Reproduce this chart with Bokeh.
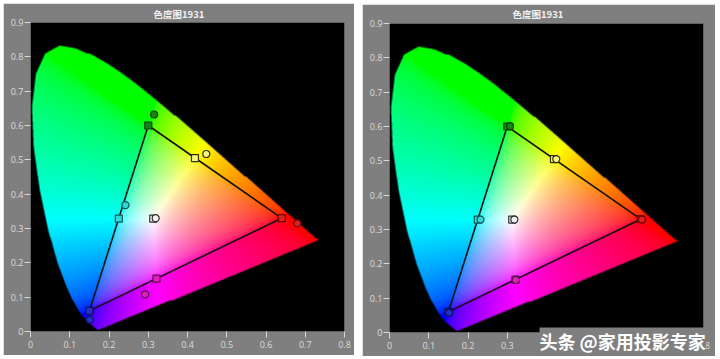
import numpy as np
from bokeh.plotting import figure
from bokeh.layouts import row
from bokeh.models import FixedTicker, Title
from bokeh.embed import file_html
from bokeh.resources import INLINE

# CIE 1931 2-degree spectral locus (380..700 nm, 5 nm)
locus_x = [0.1741, 0.1740, 0.1738, 0.1736, 0.1733, 0.1730, 0.1726, 0.1721, 0.1714, 0.1703,
           0.1689, 0.1669, 0.1644, 0.1611, 0.1566, 0.1510, 0.1440, 0.1355, 0.1241, 0.1096,
           0.0913, 0.0687, 0.0454, 0.0235, 0.0082, 0.0039, 0.0139, 0.0389, 0.0743, 0.1142,
           0.1547, 0.1929, 0.2296, 0.2658, 0.3016, 0.3373, 0.3731, 0.4087, 0.4441, 0.4788,
           0.5125, 0.5448, 0.5752, 0.6029, 0.6270, 0.6482, 0.6658, 0.6801, 0.6915, 0.7006,
           0.7079, 0.7140, 0.7190, 0.7230, 0.7260, 0.7283, 0.7300, 0.7311, 0.7320, 0.7327,
           0.7334, 0.7340, 0.7344, 0.7346, 0.7347]
locus_y = [0.0050, 0.0050, 0.0049, 0.0049, 0.0048, 0.0048, 0.0048, 0.0048, 0.0051, 0.0058,
           0.0069, 0.0086, 0.0109, 0.0138, 0.0177, 0.0227, 0.0297, 0.0399, 0.0578, 0.0868,
           0.1327, 0.2007, 0.2950, 0.4127, 0.5384, 0.6548, 0.7502, 0.8120, 0.8338, 0.8262,
           0.8059, 0.7816, 0.7543, 0.7243, 0.6923, 0.6589, 0.6245, 0.5896, 0.5547, 0.5202,
           0.4866, 0.4544, 0.4242, 0.3965, 0.3725, 0.3514, 0.3340, 0.3197, 0.3083, 0.2993,
           0.2920, 0.2859, 0.2809, 0.2770, 0.2740, 0.2717, 0.2700, 0.2689, 0.2680, 0.2673,
           0.2666, 0.2660, 0.2656, 0.2654, 0.2653]

# Points: R, G, B, C, M, Y, W
point_names = ["R", "G", "B", "C", "M", "Y", "W"]
target_x = [0.640, 0.300, 0.150, 0.225, 0.321, 0.419, 0.3127]
target_y = [0.330, 0.600, 0.060, 0.329, 0.154, 0.505, 0.329]
left_meas_x = [0.680, 0.315, 0.151, 0.242, 0.292, 0.448, 0.319]
left_meas_y = [0.315, 0.632, 0.034, 0.368, 0.108, 0.517, 0.330]
right_meas_x = [0.643, 0.307, 0.152, 0.232, 0.322, 0.425, 0.318]
right_meas_y = [0.329, 0.601, 0.058, 0.329, 0.153, 0.505, 0.329]
point_fill = ["#e02020", "#118811", "#2030c8", "#30d8d8", "#e020b8", "#f8f880", "#f4f4f4"]
point_line = ["#700000", "#0a400a", "#101060", "#105858", "#601050", "#303000", "#303030"]

x_ticks = [0, 0.1, 0.2, 0.3, 0.4, 0.5, 0.6, 0.7, 0.8]
x_tick_labels = ["0", "0.1", "0.2", "0.3", "0.4", "0.5", "0.6", "0.7", "0.8"]
y_ticks = [0, 0.1, 0.2, 0.3, 0.4, 0.5, 0.6, 0.7, 0.8, 0.9]
y_tick_labels = ["0", "0.1", "0.2", "0.3", "0.4", "0.5", "0.6", "0.7", "0.8", "0.9"]

title_text = "色度图1931"
watermark_text = "头条 @家用投影专家"

# ---- chromaticity image (supersampled edge) ----
NX, NY, SS = 314, 314, 3
gx = (np.arange(NX * SS) + 0.5) / (NX * SS) * 0.8
gy = (np.arange(NY * SS) + 0.5) / (NY * SS) * 0.9
PX, PY = np.meshgrid(gx, gy)
vx = np.array(locus_x)
vy = np.array(locus_y)
inside = np.zeros(PX.shape, dtype=bool)
n = len(vx)
j = n - 1
for i in range(n):
    dy = vy[j] - vy[i]
    if dy == 0:
        dy = 1e-12
    cond = ((vy[i] > PY) != (vy[j] > PY)) & (PX < (vx[j] - vx[i]) * (PY - vy[i]) / dy + vx[i])
    inside ^= cond
    j = i
cover = inside.reshape(NY, SS, NX, SS).mean(axis=(1, 3))

cx = (np.arange(NX) + 0.5) / NX * 0.8
cy = (np.arange(NY) + 0.5) / NY * 0.9
CX, CY = np.meshgrid(cx, cy)
CZ = 1 - CX - CY
M = np.array([[3.2406, -1.5372, -0.4986],
              [-0.9689, 1.8758, 0.0415],
              [0.0557, -0.2040, 1.0570]])
xyz = np.stack([CX, CY, CZ], axis=-1)
rgb = xyz @ M.T
rgb = np.clip(rgb, 0, None)
mx = rgb.max(axis=-1, keepdims=True)
mx[mx == 0] = 1
rgb = rgb / mx
rgb = np.where(rgb <= 0.0031308, 12.92 * rgb, 1.055 * np.power(rgb, 1 / 2.4) - 0.055)
rgb = np.clip(rgb, 0, 1)
img = np.zeros((NY, NX), dtype=np.uint32)
view = img.view(dtype=np.uint8).reshape((NY, NX, 4))
view[..., 0] = (rgb[..., 0] * 255).astype(np.uint8)
view[..., 1] = (rgb[..., 1] * 255).astype(np.uint8)
view[..., 2] = (rgb[..., 2] * 255).astype(np.uint8)
view[..., 3] = (cover * 255).astype(np.uint8)


def make_panel(meas_x, meas_y, w, h, bl, br, bt, bb, title_standoff):
    p = figure(width=w, height=h, x_range=(0, 0.8), y_range=(0, 0.9),
               output_backend="svg", toolbar_location=None,
               min_border_left=bl, min_border_right=br,
               min_border_top=bt, min_border_bottom=bb)
    p.background_fill_color = "black"
    p.border_fill_color = "#7f7f7f"
    p.outline_line_color = None
    p.grid.visible = False

    p.title.text = title_text
    p.title.align = "left"
    p.title.offset = 123
    p.title.standoff = title_standoff
    p.title.vertical_align = "middle"
    p.title.text_font = "Noto Sans CJK SC"
    p.title.text_font_size = "9.5px"
    p.title.text_font_style = "bold"
    p.title.text_color = "#f2f2f2"

    p.image_rgba(image=[img], x=0, y=0, dw=0.8, dh=0.9)

    tri_x = [target_x[0], target_x[1], target_x[2], target_x[0]]
    tri_y = [target_y[0], target_y[1], target_y[2], target_y[0]]
    p.line(tri_x, tri_y, line_color="#111111", line_width=1.6)

    p.scatter(target_x, target_y, marker="square", size=7,
              fill_color=point_fill, line_color=point_line, line_width=1.2)
    p.scatter(meas_x, meas_y, marker="circle", size=7,
              fill_color=point_fill, line_color=point_line, line_width=1.2)

    p.xaxis.ticker = FixedTicker(ticks=x_ticks)
    p.yaxis.ticker = FixedTicker(ticks=y_ticks)
    p.xaxis.major_label_overrides = {t: l for t, l in zip(x_ticks, x_tick_labels)}
    p.yaxis.major_label_overrides = {t: l for t, l in zip(y_ticks, y_tick_labels)}
    for ax in (p.xaxis, p.yaxis):
        ax.axis_line_color = None
        ax.minor_tick_line_color = None
        ax.major_tick_line_color = "#d8d8d8"
        ax.major_tick_out = 6
        ax.major_tick_in = 0
        ax.major_label_text_color = "#dcdcdc"
        ax.major_label_text_font = "Open Sans"
        ax.major_label_text_font_size = "9px"
    p.xaxis.major_label_standoff = 3
    p.yaxis.major_label_standoff = 1
    return p


p1 = make_panel(left_meas_x, left_meas_y, 351, 352, 27, 10, 14, 24, 2)
p1.margin = (3, 0, 0, 3)
p2 = make_panel(right_meas_x, right_meas_y, 353, 352, 27, 12, 15, 24, 3)
p2.margin = (4, 0, 0, 8)

wm = Title(text=watermark_text, align="left", offset=150, standoff=-48,
           vertical_align="top", text_font="Noto Sans CJK SC", text_font_size="18px",
           text_font_style="bold", text_color="white",
           background_fill_color="#7f7f7f", background_fill_alpha=1.0)
p2.add_layout(wm, "below")

layout = row(p1, p2)
open("out.html", "w").write(file_html(layout, INLINE))
